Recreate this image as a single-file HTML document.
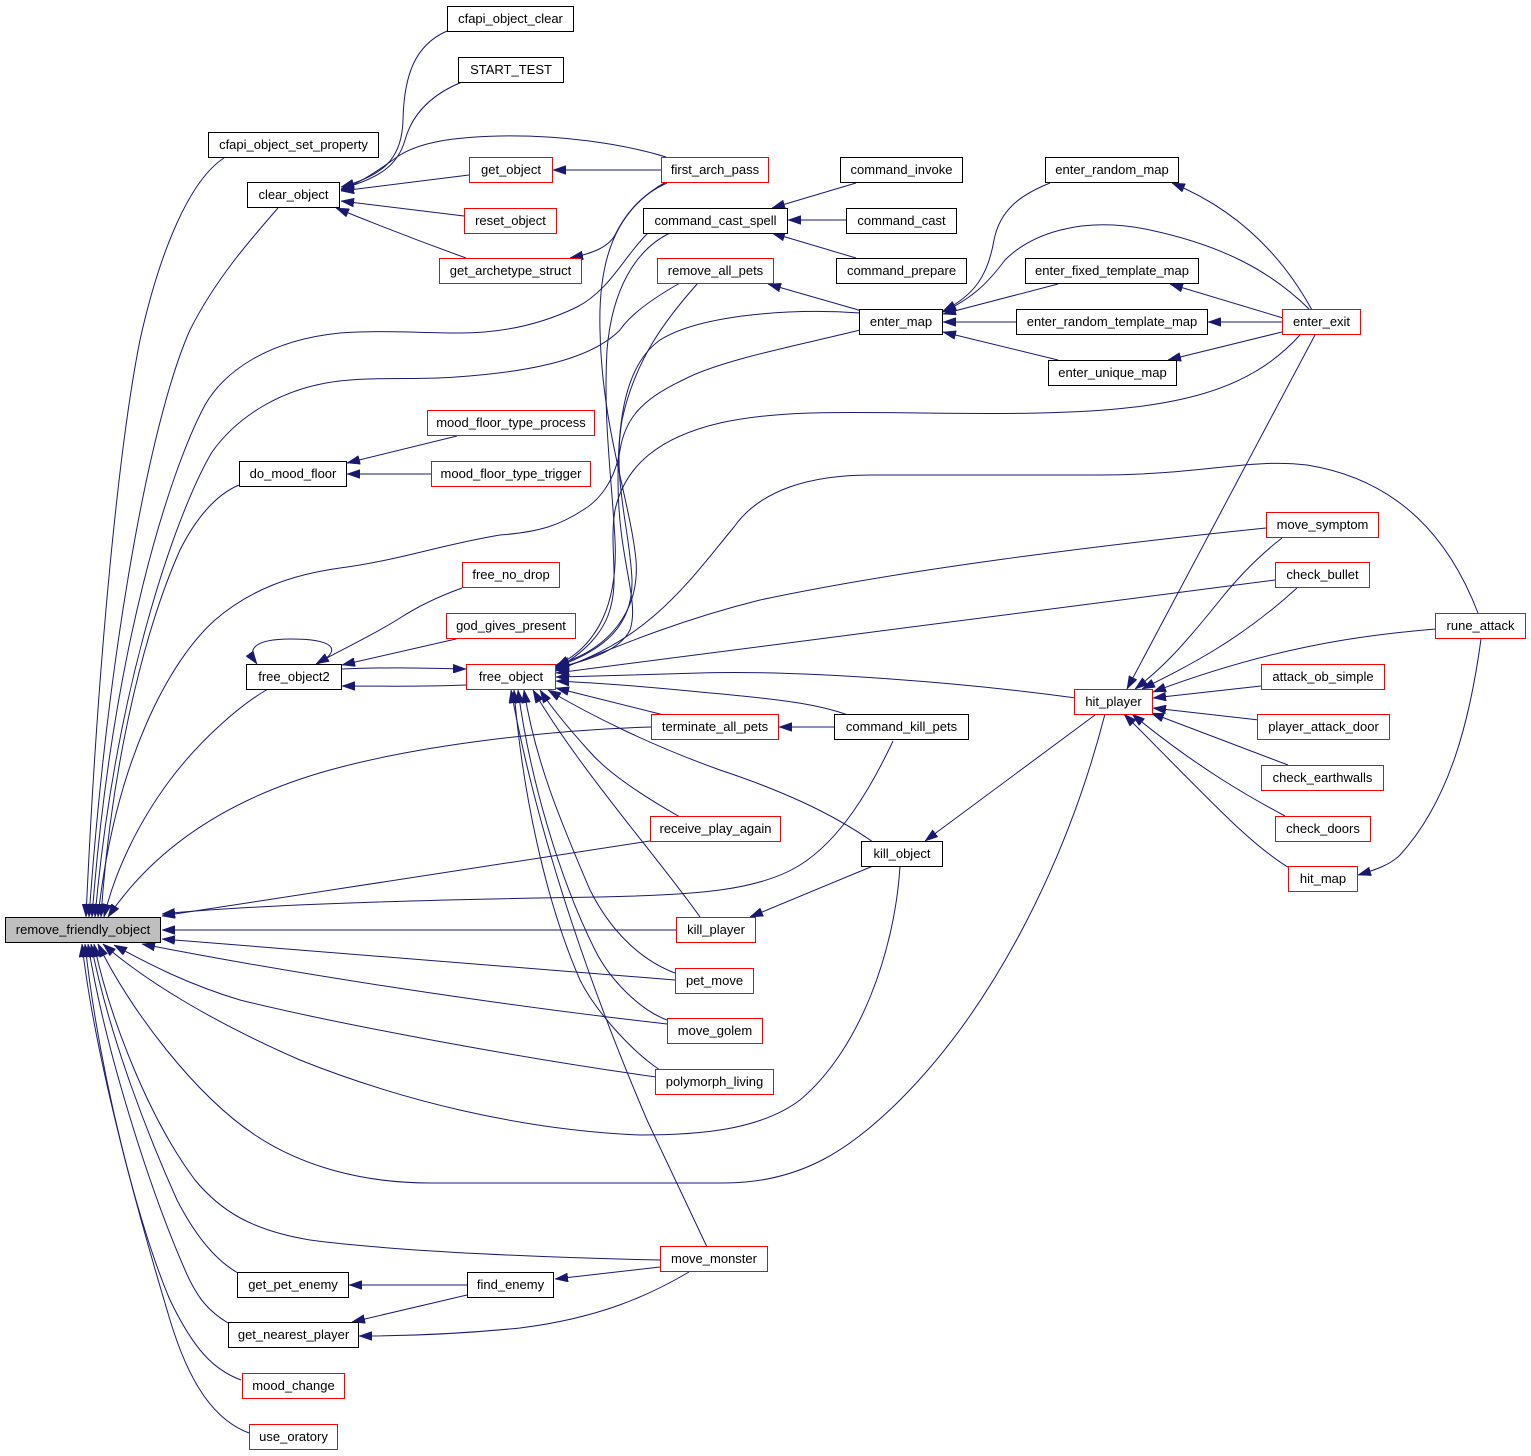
<!DOCTYPE html>
<html>
<head>
<meta charset="utf-8">
<style>
  html, body { margin: 0; padding: 0; background: #ffffff; }
  svg { display: block; }
  .e { fill: none; stroke: #191970; stroke-width: 1; marker-end: url(#ah); }
  .nb { fill: #ffffff; stroke: #000000; stroke-width: 1; }
  .nr { fill: #ffffff; stroke: #ff0000; stroke-width: 1; }
  .ng { fill: #bfbfbf; stroke: #000000; stroke-width: 1; }
  text { font-family: "Liberation Sans", Arial, sans-serif; font-size: 13px; fill: #000000; text-anchor: middle; }
</style>
</head>
<body>
<svg width="1531" height="1456" viewBox="0 0 1531 1456" xmlns="http://www.w3.org/2000/svg">
<defs>
  <marker id="ah" markerUnits="userSpaceOnUse" markerWidth="13" markerHeight="9" refX="13" refY="4.5" orient="auto" viewBox="0 0 13 9">
    <path d="M0,0 L13,4.5 L0,9 z" fill="#191970" stroke="#191970" stroke-width="0.5"/>
  </marker>
</defs>
<rect x="0" y="0" width="1531" height="1456" fill="#ffffff"/>

<!-- clear_object group -->
<path class="e" d="M447,31 C415,45 404,75 403,120 C402,160 382,176 341,187"/>
<path class="e" d="M462,82 C430,95 412,115 405,140 C398,165 380,178 341,189"/>
<path class="e" d="M666,157 C620,143 560,135 500,136 C450,137 420,143 400,155 C385,165 370,178 341,190"/>
<path class="e" d="M469,175 L341,191"/>
<path class="e" d="M464,216 L341,201"/>
<path class="e" d="M466,258 C430,245 390,230 336,208"/>

<!-- first_arch_pass -->
<path class="e" d="M661,170 L553,170"/>
<path class="e" d="M667,183 C640,195 625,215 615,235 C608,248 590,254 570,258"/>

<!-- command_cast_spell -->
<path class="e" d="M856,183 L772,208"/>
<path class="e" d="M846,220 L788,220"/>
<path class="e" d="M856,258 L772,233"/>

<!-- remove_all_pets -->
<path class="e" d="M862,311 L768,284"/>

<!-- enter_map -->
<path class="e" d="M1050,183 C1020,195 1000,210 994,240 C988,275 975,295 943,311"/>
<path class="e" d="M1310,310 C1270,270 1220,245 1150,230 C1080,215 1030,235 1005,260 C990,280 975,297 943,312"/>
<path class="e" d="M1058,284 L943,314"/>
<path class="e" d="M1016,322 L943,322"/>
<path class="e" d="M1058,360 L943,332"/>

<!-- enter_exit to others -->
<path class="e" d="M1312,310 C1290,270 1250,215 1172,183"/>
<path class="e" d="M1283,318 L1170,284"/>
<path class="e" d="M1282,322 L1208,322"/>
<path class="e" d="M1282,332 L1168,360"/>

<!-- do_mood_floor -->
<path class="e" d="M457,436 L347,463"/>
<path class="e" d="M431,474 L347,474"/>

<!-- free_object2 -->
<path class="e" d="M462,588 C440,596 420,605 400,618 C370,637 340,650 316,664"/>
<path class="e" d="M456,639 L342,665"/>
<path class="e" d="M466,685 C420,687 380,686 342,686"/>
<path class="e" d="M342,669 C390,667 420,668 466,669"/>
<path class="e" d="M318,664 C345,648 330,639 291,639 C252,639 247,650 257,664"/>

<!-- hit_player -->
<path class="e" d="M1315,335 L1127,689"/>
<path class="e" d="M1282,538 C1260,555 1240,575 1220,600 C1180,650 1160,670 1135,689"/>
<path class="e" d="M1297,588 C1240,640 1190,665 1142,689"/>
<path class="e" d="M1436,629 C1360,635 1270,648 1153,692"/>
<path class="e" d="M1261,686 L1153,698"/>
<path class="e" d="M1259,720 L1153,708"/>
<path class="e" d="M1288,765 L1151,713"/>
<path class="e" d="M1285,816 C1255,800 1200,770 1132,714"/>
<path class="e" d="M1291,869 C1250,845 1210,800 1124,714"/>
<path class="e" d="M1481,639 C1470,720 1450,800 1400,855 C1390,865 1375,870 1358,875"/>

<!-- kill_object etc -->
<path class="e" d="M1095,715 L925,841"/>
<path class="e" d="M873,866 L750,917"/>
<path class="e" d="M834,727 L779,727"/>

<!-- bottom group -->
<path class="e" d="M467,1285 L349,1285"/>
<path class="e" d="M467,1295 L352,1322"/>
<path class="e" d="M660,1267 L555,1279"/>
<path class="e" d="M689,1272 C650,1295 600,1318 520,1328 C460,1334 410,1336 359,1336"/>

<!-- free_object incoming -->
<path class="e" d="M666,182 C615,210 598,260 600,330 C602,430 630,500 636,560 C640,610 610,650 556,665"/>
<path class="e" d="M670,233 C635,250 612,290 607,350 C603,420 612,480 615,540 C618,600 600,645 556,666"/>
<path class="e" d="M698,283 C665,320 635,360 622,420 C612,480 630,530 632,580 C633,625 605,650 556,667"/>
<path class="e" d="M860,313 C790,308 700,315 660,340 C625,365 618,420 618,480 C618,560 640,600 630,630 C620,650 590,660 556,668"/>
<path class="e" d="M1300,335 C1250,390 1180,410 1040,413 C900,416 800,405 720,423 C660,437 625,465 615,510 C605,570 640,620 556,669"/>
<path class="e" d="M1478,613 C1450,540 1400,480 1307,465 C1250,458 1200,475 1100,475 L871,475 C810,475 760,490 734,527 C690,580 650,640 556,670"/>
<path class="e" d="M1266,528 C1100,545 900,570 760,600 C680,620 620,645 556,671"/>
<path class="e" d="M1275,580 L556,673"/>
<path class="e" d="M1076,698 C960,682 800,670 700,673 C640,675 600,676 556,677"/>
<path class="e" d="M848,715 C820,705 790,700 700,692 C640,686 600,683 556,681"/>
<path class="e" d="M664,715 L556,688"/>
<path class="e" d="M680,817 C650,800 610,775 590,752 C570,730 553,710 540,690"/>
<path class="e" d="M873,842 C830,812 780,790 720,770 C650,745 590,715 548,690"/>
<path class="e" d="M700,917 C660,860 580,770 533,690"/>
<path class="e" d="M675,973 C640,960 610,930 590,890 C560,820 535,760 524,690"/>
<path class="e" d="M667,1020 C640,1010 610,980 595,950 C560,880 530,780 518,690"/>
<path class="e" d="M660,1070 C630,1050 595,1010 580,980 C545,900 522,790 514,690"/>
<path class="e" d="M707,1247 L647,1120 C600,1010 540,850 511,690"/>

<!-- remove_friendly_object incoming -->
<path class="e" d="M224,158 C190,180 160,250 140,340 C120,440 98,650 86,917"/>
<path class="e" d="M278,208 C250,240 215,280 190,330 C150,420 108,650 89,917"/>
<path class="e" d="M648,233 C625,255 610,290 577,307 C540,325 500,333 460,333 C420,333 380,330 340,333 C270,340 225,370 205,405 C170,470 112,650 92,917"/>
<path class="e" d="M680,283 C650,300 630,315 620,330 C600,350 560,370 456,377 C420,380 390,377 350,380 C280,385 235,420 212,452 C175,515 115,690 95,917"/>
<path class="e" d="M860,330 C800,345 720,360 683,380 C640,400 625,420 620,450 C615,480 600,500 583,510 C560,525 540,532 500,535 C440,545 400,560 340,568 C290,575 250,590 215,620 C170,660 115,760 98,917"/>
<path class="e" d="M239,485 C215,495 195,520 180,550 C140,640 110,780 101,917"/>
<path class="e" d="M268,689 C240,705 200,740 170,780 C140,820 115,870 104,917"/>
<path class="e" d="M651,727 C550,730 420,745 330,770 C240,795 160,840 108,917"/>
<path class="e" d="M650,841 L162,916"/>
<path class="e" d="M893,741 C870,790 840,840 800,865 C760,890 700,895 600,897 C400,900 250,905 162,914"/>
<path class="e" d="M676,930 L162,930"/>
<path class="e" d="M675,980 L162,939"/>
<path class="e" d="M667,1024 C500,1005 300,975 142,944"/>
<path class="e" d="M656,1077 C500,1055 320,1020 240,1000 C190,985 150,965 114,945"/>
<path class="e" d="M900,866 C895,950 860,1050 800,1100 C760,1130 700,1135 640,1135 C520,1130 400,1100 300,1060 C220,1025 150,985 103,944"/>
<path class="e" d="M1105,714 C1070,850 1000,1000 900,1100 C850,1150 800,1183 724,1183 L430,1183 C360,1183 300,1165 255,1135 C195,1095 130,1010 98,944"/>
<path class="e" d="M660,1260 C560,1258 400,1252 310,1240 C250,1230 220,1210 195,1180 C150,1120 110,1020 94,944"/>
<path class="e" d="M238,1273 C215,1260 195,1235 177,1200 C150,1140 110,1040 91,944"/>
<path class="e" d="M228,1323 C210,1312 198,1300 185,1270 C150,1190 105,1050 88,944"/>
<path class="e" d="M241,1380 C214,1370 194,1350 170,1300 C140,1230 100,1080 85,944"/>
<path class="e" d="M249,1433 C214,1420 189,1383 170,1320 C140,1220 95,1060 82,944"/>

<!-- NODES -->
<rect class="nb" x="447.5" y="6.5" width="126" height="25"/><text x="510.5" y="23">cfapi_object_clear</text>
<rect class="nb" x="458.5" y="57.5" width="105" height="25"/><text x="511" y="74">START_TEST</text>
<rect class="nb" x="208.5" y="132.5" width="170" height="25"/><text x="293.5" y="149">cfapi_object_set_property</text>
<rect class="nb" x="247.5" y="182.5" width="92" height="25"/><text x="293.5" y="199">clear_object</text>
<rect class="nr" x="469.5" y="157.5" width="83" height="25"/><text x="511" y="174">get_object</text>
<rect class="nr" x="464.5" y="208.5" width="92" height="25"/><text x="510.5" y="225">reset_object</text>
<rect class="nr" x="439.5" y="258.5" width="142" height="25"/><text x="510.5" y="275">get_archetype_struct</text>
<rect class="nr" x="661.5" y="157.5" width="107" height="25"/><text x="715" y="174">first_arch_pass</text>
<rect class="nb" x="643.5" y="208.5" width="144" height="25"/><text x="715.5" y="225">command_cast_spell</text>
<rect class="nr" x="657.5" y="258.5" width="116" height="25"/><text x="715.5" y="275">remove_all_pets</text>
<rect class="nb" x="840.5" y="157.5" width="122" height="25"/><text x="901.5" y="174">command_invoke</text>
<rect class="nb" x="846.5" y="208.5" width="110" height="25"/><text x="901.5" y="225">command_cast</text>
<rect class="nb" x="836.5" y="258.5" width="130" height="25"/><text x="901.5" y="275">command_prepare</text>
<rect class="nb" x="1045.5" y="157.5" width="133" height="25"/><text x="1112" y="174">enter_random_map</text>
<rect class="nb" x="859.5" y="309.5" width="83" height="25"/><text x="901" y="326">enter_map</text>
<rect class="nb" x="1025.5" y="258.5" width="173" height="25"/><text x="1112" y="275">enter_fixed_template_map</text>
<rect class="nb" x="1016.5" y="309.5" width="191" height="25"/><text x="1112" y="326">enter_random_template_map</text>
<rect class="nb" x="1048.5" y="360.5" width="128" height="25"/><text x="1112.5" y="377">enter_unique_map</text>
<rect class="nr" x="1282.5" y="309.5" width="78" height="25"/><text x="1321.5" y="326">enter_exit</text>
<rect class="nr" x="427.5" y="410.5" width="167" height="25"/><text x="511" y="427">mood_floor_type_process</text>
<rect class="nb" x="239.5" y="461.5" width="107" height="25"/><text x="293" y="478">do_mood_floor</text>
<rect class="nr" x="431.5" y="461.5" width="159" height="25"/><text x="511" y="478">mood_floor_type_trigger</text>
<rect class="nr" x="462.5" y="562.5" width="97" height="25"/><text x="511" y="579">free_no_drop</text>
<rect class="nr" x="446.5" y="613.5" width="129" height="25"/><text x="511" y="630">god_gives_present</text>
<rect class="nb" x="246.5" y="664.5" width="95" height="25"/><text x="294" y="681">free_object2</text>
<rect class="nr" x="466.5" y="664.5" width="89" height="25"/><text x="511" y="681">free_object</text>
<rect class="nr" x="1266.5" y="512.5" width="112" height="25"/><text x="1322.5" y="529">move_symptom</text>
<rect class="nr" x="1275.5" y="562.5" width="94" height="25"/><text x="1322.5" y="579">check_bullet</text>
<rect class="nr" x="1435.5" y="613.5" width="90" height="25"/><text x="1480.5" y="630">rune_attack</text>
<rect class="nr" x="1261.5" y="664.5" width="123" height="25"/><text x="1323" y="681">attack_ob_simple</text>
<rect class="nr" x="1074.5" y="689.5" width="78" height="25"/><text x="1113.5" y="706">hit_player</text>
<rect class="nr" x="1257.5" y="714.5" width="132" height="25"/><text x="1323.5" y="731">player_attack_door</text>
<rect class="nr" x="651.5" y="714.5" width="127" height="25"/><text x="715" y="731">terminate_all_pets</text>
<rect class="nb" x="834.5" y="714.5" width="134" height="25"/><text x="901.5" y="731">command_kill_pets</text>
<rect class="nr" x="1261.5" y="765.5" width="122" height="25"/><text x="1322.5" y="782">check_earthwalls</text>
<rect class="nr" x="650.5" y="816.5" width="130" height="25"/><text x="715.5" y="833">receive_play_again</text>
<rect class="nr" x="1275.5" y="816.5" width="95" height="25"/><text x="1323" y="833">check_doors</text>
<rect class="nb" x="861.5" y="841.5" width="81" height="25"/><text x="902" y="858">kill_object</text>
<rect class="nr" x="1288.5" y="866.5" width="69" height="25"/><text x="1323" y="883">hit_map</text>
<rect class="ng" x="5.5" y="917.5" width="155" height="25"/><text x="83" y="934">remove_friendly_object</text>
<rect class="nr" x="676.5" y="917.5" width="79" height="25"/><text x="716" y="934">kill_player</text>
<rect class="nr" x="675.5" y="968.5" width="78" height="25"/><text x="714.5" y="985">pet_move</text>
<rect class="nr" x="667.5" y="1018.5" width="95" height="25"/><text x="715" y="1035">move_golem</text>
<rect class="nr" x="655.5" y="1069.5" width="118" height="25"/><text x="714.5" y="1086">polymorph_living</text>
<rect class="nr" x="660.5" y="1246.5" width="107" height="25"/><text x="714" y="1263">move_monster</text>
<rect class="nb" x="237.5" y="1272.5" width="111" height="25"/><text x="293" y="1289">get_pet_enemy</text>
<rect class="nb" x="467.5" y="1272.5" width="86" height="25"/><text x="510.5" y="1289">find_enemy</text>
<rect class="nb" x="228.5" y="1322.5" width="130" height="25"/><text x="293.5" y="1339">get_nearest_player</text>
<rect class="nr" x="242.5" y="1373.5" width="102" height="25"/><text x="293.5" y="1390">mood_change</text>
<rect class="nr" x="249.5" y="1424.5" width="88" height="25"/><text x="293.5" y="1441">use_oratory</text>
</svg>
</body>
</html>
